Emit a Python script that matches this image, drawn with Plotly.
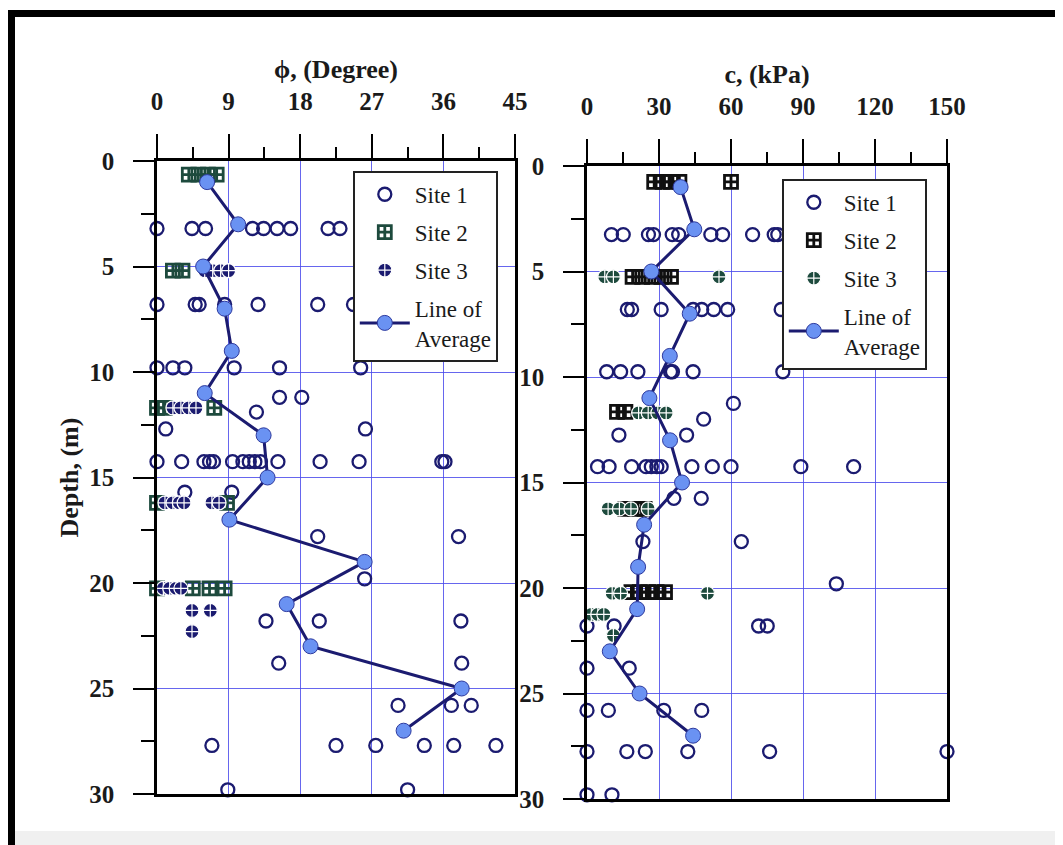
import plotly.graph_objects as go

W, H = 1063, 845
PAGE_OFF = 8  # the html body margin shifts the figure by 8 px


def fx(px):
    return (px - PAGE_OFF) / W


def fy(py):
    return 1 - (py - PAGE_OFF) / H


# ---------------- Left panel: friction angle phi (degree) ----------------
phi_site1_depth = [3.2]*9 + [6.8]*7 + [9.8]*6 + [11.2]*2 + [11.9] + [12.7]*2 + [14.25]*15 + \
    [15.7]*2 + [17.8]*2 + [19.8] + [21.8]*3 + [23.8]*2 + [25.8]*3 + [27.7]*6 + [29.8]*2
phi_site1_value = [0, 4.4, 6.1, 12.0, 13.4, 15.1, 16.8, 21.5, 23.0,
                   0, 4.8, 5.3, 8.5, 12.7, 20.2, 24.7,
                   0, 2.0, 3.5, 9.7, 15.4, 25.6,
                   15.4, 18.2,
                   12.5,
                   1.1, 26.2,
                   0, 3.1, 5.9, 6.6, 7.1, 9.5, 10.8, 11.6, 12.3, 13.0, 15.2, 20.5, 25.4, 35.8, 36.2,
                   3.5, 9.4,
                   20.2, 37.9,
                   26.1,
                   13.7, 20.4, 38.2,
                   15.3, 38.3,
                   30.3, 37.0, 39.5,
                   6.9, 22.5, 27.5, 33.6, 37.3, 42.6,
                   8.9, 31.5]

phi_site2_depth = [0.65]*4 + [5.2]*2 + [11.7]*3 + [16.2]*2 + [20.25]*4
phi_site2_value = [4.0, 5.2, 6.4, 7.5,
                   2.0, 3.2,
                   0, 1.0, 7.2,
                   0, 8.8,
                   0, 4.5, 6.6, 8.5]

phi_site3_depth = [5.2]*4 + [11.7]*4 + [16.2]*6 + [20.25]*4 + [21.3]*2 + [22.3]
phi_site3_value = [6.0, 7.0, 8.0, 9.0,
                   2.0, 3.0, 4.0, 4.9,
                   1.0, 2.0, 2.8, 3.4, 6.9, 7.8,
                   0.8, 1.6, 2.4, 3.0,
                   4.4, 6.7,
                   4.4]

avg_depth = [1, 3, 5, 7, 9, 11, 13, 15, 17, 19, 21, 23, 25, 27]
phi_avg_value = [6.3, 10.2, 5.8, 8.5, 9.4, 6.0, 13.4, 13.9, 9.1, 26.1, 16.3, 19.3, 38.3, 31.0]

# ---------------- Right panel: cohesion c (kPa) ----------------
c_site1_depth = [3.25]*11 + [6.8]*8 + [9.75]*7 + [11.25] + [12.0] + [12.75]*2 + [14.25]*12 + \
    [15.75]*2 + [17.8]*2 + [19.8] + [21.8]*4 + [23.8]*2 + [25.8]*4 + [27.75]*6 + [29.8]*2
c_site1_value = [10.2, 15.1, 25.6, 27.7, 35.5, 38.2, 51.6, 56.5, 69.0, 78.0, 79.5,
                 16.8, 18.6, 30.9, 44.2, 47.8, 52.8, 58.6, 80.9,
                 8.2, 14.0, 21.2, 34.8, 35.6, 44.2, 81.6,
                 61.0,
                 48.6,
                 13.3, 41.5,
                 4.4, 9.2, 18.6, 24.6, 26.8, 29.1, 30.9, 43.7, 52.2, 60.0, 89.1, 111.1,
                 36.2, 47.6,
                 23.3, 64.3,
                 103.9,
                 0, 11.3, 71.5, 75.1,
                 0, 17.6,
                 0, 8.9, 32.0, 47.8,
                 0, 16.6, 24.3, 42.0, 76.1, 150,
                 0, 10.4]

c_site2_depth = [0.75]*5 + [5.25]*5 + [11.65]*2 + [16.25]*3 + [20.2]*5
c_site2_value = [28, 31.5, 35, 38.5, 60,
                 19, 23, 27, 31, 35,
                 12.5, 16,
                 16, 20, 24,
                 18.5, 22, 25.5, 29, 32.5]

c_site3_depth = [5.25]*3 + [11.7]*4 + [16.25]*4 + [20.25]*3 + [21.25]*3 + [22.25]
c_site3_value = [7.4, 11.0, 55.0,
                 21.5, 25.5, 29.5, 33,
                 8.8, 13.5, 18.3, 25.5,
                 10.5, 14.0, 50.2,
                 1.8, 4.5, 7.0,
                 11.0]

c_avg_value = [39, 44.7, 26.8, 42.8, 34.5, 26.0, 34.6, 39.6, 23.8, 21.3, 20.9, 9.5, 21.9, 44.2]

phi_ticks = [0, 9, 18, 27, 36, 45]
phi_minor = [4.5, 13.5, 22.5, 31.5, 40.5]
c_ticks = [0, 30, 60, 90, 120, 150]
c_minor = [15, 45, 75, 105, 135]
depth_ticks = [0, 5, 10, 15, 20, 25, 30]
depth_minor = [2.5, 7.5, 12.5, 17.5, 22.5, 27.5]

# ---------------- styles ----------------
NAVY = '#1b1b70'
DKGREEN = '#1d4a3d'
GRID = 'rgba(75,75,235,0.85)'
SERIF = 'Liberation Serif'
TXT = '#1a1a1a'

fig = go.Figure()


def add_panel(xa, ya, leg, s1d, s1v, s2d, s2v, s2col, s3d, s3v, s3col, avv):
    fig.add_trace(go.Scatter(
        x=s1v, y=s1d, mode='markers', name='Site 1', xaxis=xa, yaxis=ya,
        legend=leg, legendgroup=leg + 'a', cliponaxis=False,
        marker=dict(symbol='circle-open', size=13, color=NAVY, line=dict(width=2.3))))
    fig.add_trace(go.Scatter(
        x=s2v, y=s2d, mode='markers', name='Site 2', xaxis=xa, yaxis=ya,
        legend=leg, legendgroup=leg + 'b', cliponaxis=False,
        marker=dict(symbol='square-cross-open', size=13, color=s2col, line=dict(width=2.8))))
    fig.add_trace(go.Scatter(
        x=s3v, y=s3d, mode='markers', name='Site 3', xaxis=xa, yaxis=ya,
        legend=leg, legendgroup=leg + 'c', cliponaxis=False,
        marker=dict(symbol='circle-cross', size=14, color=s3col,
                    line=dict(width=1.2, color='white'))))
    fig.add_trace(go.Scatter(
        x=avv, y=avg_depth, mode='lines+markers', name='Line of<br>Average',
        xaxis=xa, yaxis=ya, legend=leg, legendgroup=leg + 'd', cliponaxis=False,
        line=dict(color=NAVY, width=3),
        marker=dict(symbol='circle', size=15, color='#6a92f2',
                    line=dict(width=1, color='#2e3a9e'))))


add_panel('x', 'y', 'legend', phi_site1_depth, phi_site1_value,
          phi_site2_depth, phi_site2_value, DKGREEN,
          phi_site3_depth, phi_site3_value, NAVY, phi_avg_value)
add_panel('x2', 'y2', 'legend2', c_site1_depth, c_site1_value,
          c_site2_depth, c_site2_value, '#101010',
          c_site3_depth, c_site3_value, DKGREEN, c_avg_value)

tickfont = dict(family=SERIF, size=25, color=TXT, weight='bold')
titlefont = dict(family=SERIF, size=26, color=TXT, weight='bold')


def xaxis_cfg(dom, rng, ticks, minor, title, anchor):
    return dict(domain=dom, range=rng, side='top', anchor=anchor, automargin=False,
                tickmode='array', tickvals=ticks, ticks='outside', ticklen=24,
                tickwidth=2, tickcolor='black', tickfont=tickfont,
                ticklabelstandoff=14,
                showline=True, linewidth=2.5, linecolor='black', mirror=True,
                showgrid=True, gridcolor=GRID, gridwidth=1, zeroline=False,
                minor=dict(tickmode='array', tickvals=minor, ticks='outside',
                           ticklen=11, tickwidth=2, tickcolor='black', showgrid=False),
                title=dict(text=title, font=titlefont, standoff=3))


def yaxis_cfg(dom, title, anchor):
    return dict(domain=dom, range=[30, 0], anchor=anchor, automargin=False,
                tickmode='array', tickvals=depth_ticks, ticks='outside', ticklen=21,
                tickwidth=2, tickcolor='black', tickfont=tickfont,
                ticklabelstandoff=14,
                showline=True, linewidth=2.5, linecolor='black', mirror=True,
                showgrid=True, gridcolor=GRID, gridwidth=1, zeroline=False,
                minor=dict(tickmode='array', tickvals=depth_minor, ticks='outside',
                           ticklen=13, tickwidth=2, tickcolor='black', showgrid=False),
                title=dict(text=title, font=titlefont, standoff=4))


legend_common = dict(xanchor='left', yanchor='top', bgcolor='white',
                     bordercolor='#222', borderwidth=1.8, traceorder='grouped',
                     tracegroupgap=5, itemwidth=50,
                     font=dict(family=SERIF, size=23, color=TXT))

fig.update_layout(
    width=W, height=H, margin=dict(l=0, r=0, t=0, b=0, autoexpand=False),
    paper_bgcolor='white', plot_bgcolor='white',
    xaxis=xaxis_cfg([fx(157), fx(515)], [0, 45], phi_ticks, phi_minor, 'ϕ, (Degree)', 'y'),
    yaxis=yaxis_cfg([fy(794), fy(161)], 'Depth, (m)', 'x'),
    xaxis2=xaxis_cfg([fx(587), fx(947)], [0, 150], c_ticks, c_minor, 'c, (kPa)', 'y2'),
    yaxis2=yaxis_cfg([fy(799), fy(166)], '', 'x2'),
    legend=dict(x=fx(353), y=fy(171), **legend_common),
    legend2=dict(x=fx(782), y=fy(179), **legend_common),
    shapes=[
        dict(type='rect', xref='paper', yref='paper', x0=fx(8), x1=1, y0=fy(17), y1=fy(10),
             fillcolor='black', line=dict(width=0), layer='above'),
        dict(type='rect', xref='paper', yref='paper', x0=fx(8), x1=fx(15), y0=0, y1=fy(10),
             fillcolor='black', line=dict(width=0), layer='above'),
        dict(type='rect', xref='paper', yref='paper', x0=fx(15), x1=1, y0=fy(845), y1=fy(831),
             fillcolor='#f0f0f0', line=dict(width=0), layer='below'),
    ],
)

fig.write_html('out.html')
